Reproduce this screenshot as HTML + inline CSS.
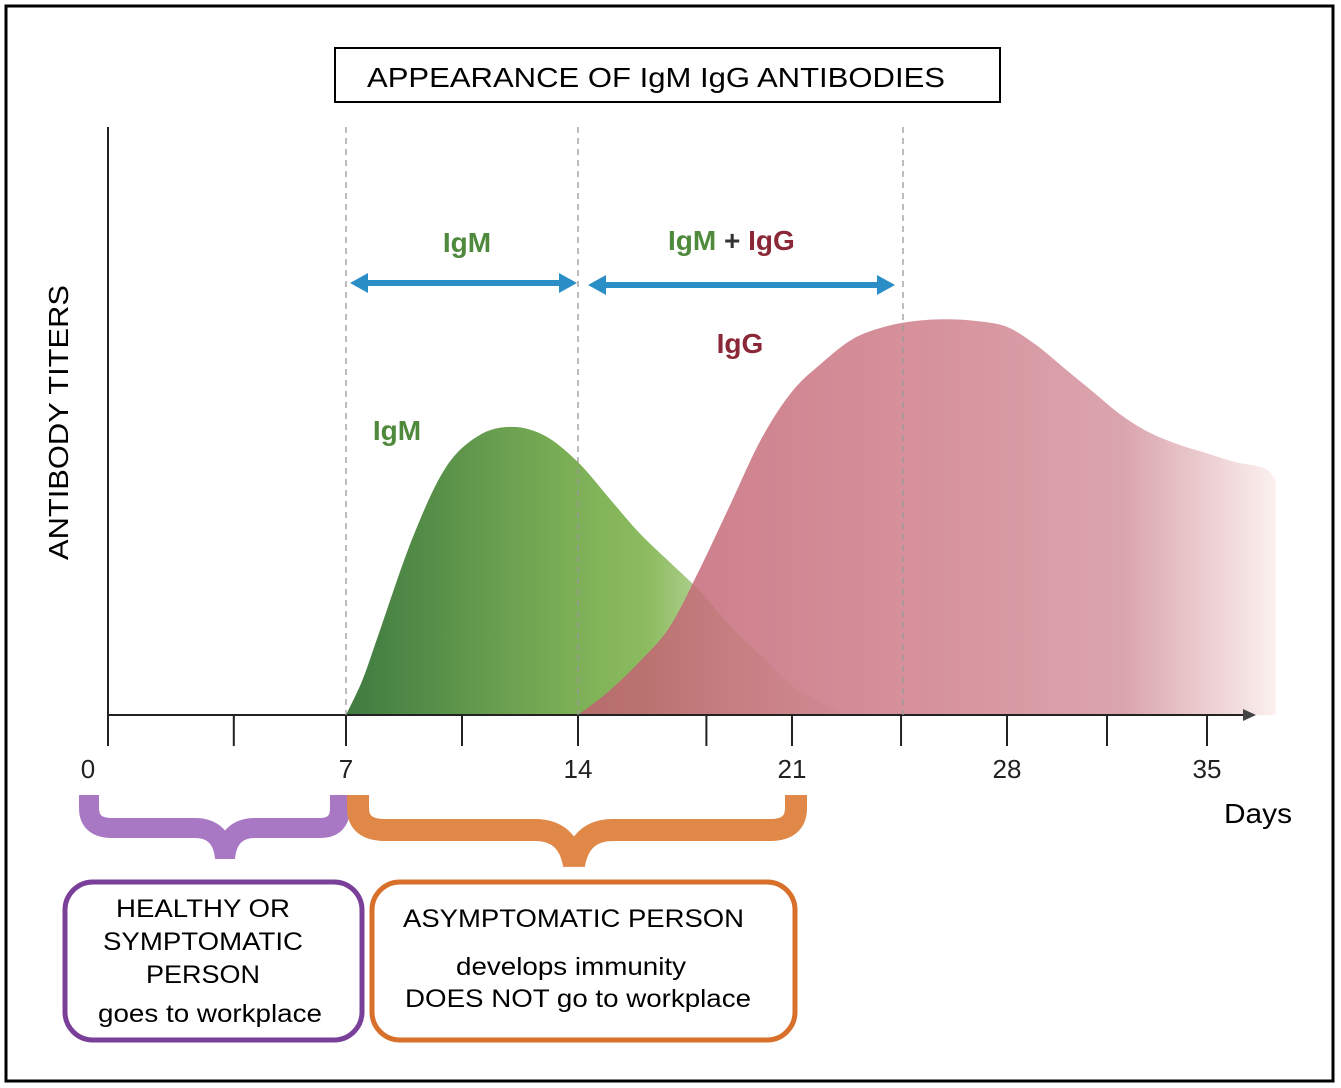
<!DOCTYPE html>
<html><head><meta charset="utf-8"><style>
body{margin:0;background:#fff}
svg{display:block;font-family:"Liberation Sans",sans-serif}
</style></head><body>
<svg id="svg" width="1341" height="1088" viewBox="0 0 1341 1088">
<defs>
<linearGradient id="gG" x1="346" x2="830" gradientUnits="userSpaceOnUse">
<stop offset="0" stop-color="#3f7a40"/><stop offset="0.45" stop-color="#7aae55"/><stop offset="0.62" stop-color="#8cbb5f"/><stop offset="0.8" stop-color="#c2dcaa"/><stop offset="1" stop-color="#e6f0da"/></linearGradient>
<linearGradient id="gP" x1="578" x2="1280" gradientUnits="userSpaceOnUse">
<stop offset="0" stop-color="#c0606f"/><stop offset="0.5" stop-color="#cf7f8b"/><stop offset="0.78" stop-color="#d495a0"/><stop offset="1" stop-color="#fbf1ee"/></linearGradient>
</defs>
<rect x="6" y="6" width="1327" height="1075" fill="#fff" stroke="#000" stroke-width="3"/>
<rect x="335" y="48" width="665" height="54" fill="#fff" stroke="#000" stroke-width="2"/>
<text x="367" y="87" font-size="28" textLength="578" lengthAdjust="spacingAndGlyphs">APPEARANCE OF IgM IgG ANTIBODIES</text>
<g id="plot"></g>
<line x1="108" y1="127" x2="108" y2="715" stroke="#222" stroke-width="2"/>
<line x1="108" y1="715" x2="1250" y2="715" stroke="#222" stroke-width="2"/>
<path d="M1243,709 L1256,715 L1243,721 Z" fill="#444"/>
<text transform="translate(68,560) rotate(-90)" font-size="28" textLength="275" lengthAdjust="spacingAndGlyphs">ANTIBODY TITERS</text>
<text x="1224" y="823" font-size="28" textLength="68" lengthAdjust="spacingAndGlyphs">Days</text>
<g id="ticks"></g>
<g stroke="#999" stroke-width="1.3" stroke-dasharray="6,5">
<line x1="346" y1="127" x2="346" y2="715"/>
<line x1="578" y1="127" x2="578" y2="715"/>
<line x1="903" y1="127" x2="903" y2="715"/>
</g>
<g fill="#2b8ec6" stroke="#2b8ec6">
<line x1="360" y1="283" x2="565" y2="283" stroke-width="6"/>
<path d="M350,283 L368,273 L368,293 Z M577,283 L559,273 L559,293 Z" stroke="none"/>
<line x1="600" y1="285" x2="883" y2="285" stroke-width="6"/>
<path d="M588,285 L606,275 L606,295 Z M895,285 L877,275 L877,295 Z" stroke="none"/>
</g>
<g font-size="28" font-weight="bold">
<text x="467" y="252" text-anchor="middle" fill="#4f8a3c">IgM</text>
<text x="668" y="250" fill="#4f8a3c">IgM <tspan fill="#333">+</tspan> <tspan fill="#8a2838">IgG</tspan></text>
<text x="740" y="353" text-anchor="middle" fill="#8a2838">IgG</text>
<text x="397" y="440" text-anchor="middle" fill="#4f8a3c">IgM</text>
</g>
<path d="M89,795 V808 Q89,828 112,828 H195 Q222,828 225,858 Q228,828 255,828 H320 Q340,828 340,808 V795" fill="none" stroke="#a878c4" stroke-width="20"/>
<path d="M358,795 V808 Q358,830 385,830 H535 Q568,830 574,865 Q580,830 613,830 H770 Q796,830 796,808 V795" fill="none" stroke="#e08848" stroke-width="22"/>
<rect x="65" y="882" width="297" height="158" rx="28" fill="#fff" stroke="#7a3f98" stroke-width="5"/>
<g font-size="25">
<text x="116" y="917" textLength="174" lengthAdjust="spacingAndGlyphs">HEALTHY OR</text><text x="103" y="950" textLength="200" lengthAdjust="spacingAndGlyphs">SYMPTOMATIC</text><text x="146" y="983" textLength="114" lengthAdjust="spacingAndGlyphs">PERSON</text><text x="98" y="1022" textLength="224" lengthAdjust="spacingAndGlyphs">goes to workplace</text></g>
<rect x="372" y="882" width="423" height="158" rx="28" fill="#fff" stroke="#d86f2a" stroke-width="5"/>
<g font-size="25">
<text x="403" y="927" textLength="341" lengthAdjust="spacingAndGlyphs">ASYMPTOMATIC PERSON</text><text x="456" y="975" textLength="230" lengthAdjust="spacingAndGlyphs">develops immunity</text><text x="405" y="1007" textLength="346" lengthAdjust="spacingAndGlyphs">DOES NOT go to workplace</text></g>
</svg>
<script>
const tickDays=[0,7,14,21,28,35];
const tickLabels=["0","7","14","21","28","35"];
const minorDays=[3.7,10.5,18.2,24.55,31.5];
const igmDays=[7,7.5,8,9,10,11,12,13,14,15,16,17,18,19,20,21,22,22.7];
const igmVals=[0,6,14,30,42,47.5,49,47.5,43,37,31,26,21,15,10,5,2,0];
const iggDays=[14,15,16,17,18,19,20,21,22,23,24,25,26,27,28,29,30,31,32,33,34,35,36,37,37.4];
const iggVals=[0,4,9,15,25,36,47,55,60,64,66,67,67.3,67,66,63,59,55,51,48,46,44.5,43,42,40];
const NS="http://www.w3.org/2000/svg";
function xs(d){const D=[0,7,14,21,28,35,42],R=[108,346,578,792,1007,1207,1407];let i=0;while(i<D.length-2&&d>D[i+1])i++;return R[i]+(d-D[i])*(R[i+1]-R[i])/(D[i+1]-D[i]);}
function ys(v){return 715-v*5.88;}
function smooth(p){let d="M"+p[0][0]+","+p[0][1];for(let i=0;i<p.length-1;i++){const a=p[Math.max(0,i-1)],b=p[i],c=p[i+1],e=p[Math.min(p.length-1,i+2)];d+=" C"+(b[0]+(c[0]-a[0])/6)+","+(b[1]+(c[1]-a[1])/6)+" "+(c[0]-(e[0]-b[0])/6)+","+(c[1]-(e[1]-b[1])/6)+" "+c[0]+","+c[1];}return d;}
const plot=document.getElementById('plot');
function area(days,vals,fill,name,op){const pts=days.map((d,i)=>[xs(d),ys(vals[i])]);const p=document.createElementNS(NS,'path');let d=smooth(pts);const last=pts[pts.length-1];if(vals[vals.length-1]!==0)d+=" L"+last[0]+",715";d+=" L"+pts[0][0]+",715 Z";p.setAttribute('d',d);p.setAttribute('fill',fill);p.setAttribute('fill-opacity',op);


plot.appendChild(p);}
area(igmDays,igmVals,'url(#gG)','igm-curve',1);
area(iggDays,iggVals,'url(#gP)','igg-curve',0.85);
const tg=document.getElementById('ticks');
tickDays.forEach((d,i)=>{const x=xs(d);const l=document.createElementNS(NS,'line');l.setAttribute('x1',x);l.setAttribute('x2',x);l.setAttribute('y1',715);l.setAttribute('y2',746);l.setAttribute('stroke','#222');l.setAttribute('stroke-width',2);


tg.appendChild(l);const t=document.createElementNS(NS,'text');t.setAttribute('x',d===0?88:x);t.setAttribute('y',778);t.setAttribute('font-size',26);t.setAttribute('text-anchor','middle');t.setAttribute('fill','#222');t.textContent=tickLabels[i];


tg.appendChild(t);});
minorDays.forEach(d=>{const x=xs(d);const l=document.createElementNS(NS,'line');l.setAttribute('x1',x);l.setAttribute('x2',x);l.setAttribute('y1',715);l.setAttribute('y2',746);l.setAttribute('stroke','#222');l.setAttribute('stroke-width',2);


tg.appendChild(l);});
</script>
</body></html>
